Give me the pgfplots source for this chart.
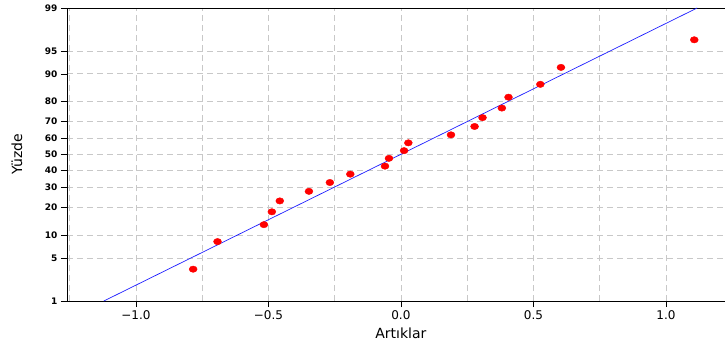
\documentclass[border=0pt]{standalone}
\usepackage{fontspec}
\setmainfont{DejaVu Sans}
\usepackage{pgfplots}
\pgfplotsset{compat=1.18}
\definecolor{gridgray}{RGB}{200,200,200}
\definecolor{fitblue}{RGB}{30,30,255}
\begin{document}
\begin{tikzpicture}
\begin{axis}[
  scale only axis, width=658pt, height=293pt,
  xmin=-1.26, xmax=1.223, ymin=-2.3263, ymax=2.3263,
  axis x line=box, axis y line=left, y axis line style={-},
  axis line style={black, line width=0.9pt},
  xtick={-1,-0.5,0,0.5,1},
  xticklabels={−1.0,−0.5,0.0,0.5,1.0},
  minor xtick={-1.25,-0.75,-0.25,0.25,0.75},
  ytick={-2.3263,-1.6449,-1.2816,-0.8416,-0.5244,-0.2533,0,0.2533,0.5244,0.8416,1.2816,1.6449,2.3263},
  yticklabels={1,5,10,20,30,40,50,60,70,80,90,95,99},
  xtick pos=bottom, ytick pos=left,
  tick align=outside,
  major tick length=6pt,
  tick style={black},
  minor tick length=0pt,
  xmajorgrids, xminorgrids, ymajorgrids,
  major grid style={gridgray, line width=0.8pt, dash pattern=on 6pt off 4pt},
  minor grid style={gridgray, line width=0.8pt, dash pattern=on 6pt off 4pt},
  xticklabel style={font=\fontsize{12}{14}\selectfont},
  yticklabel style={font=\fontsize{9}{10}\selectfont\bfseries},
  xlabel={Artıklar}, ylabel={Yüzde},
  every axis x label/.style={at={([yshift=-32pt]axis cs:0,-2.3263)}, anchor=center, font=\fontsize{14}{16}\selectfont},
  every axis y label/.style={at={([xshift=-50pt]rel axis cs:0,0.5)}, rotate=90, anchor=center, font=\fontsize{14}{16}\selectfont},
]
\addplot[fitblue, line width=0.7pt] coordinates {(-1.121,-2.3263) (1.118,2.3263)};
\addplot[only marks, mark=*, mark size=4pt, mark options={yscale=0.8, draw=red, fill=red}] table {
x z
-0.784 -1.821
-0.692 -1.383
-0.517 -1.114
-0.487 -0.910
-0.457 -0.737
-0.347 -0.585
-0.268 -0.445
-0.191 -0.312
-0.060 -0.185
-0.045 -0.061
0.012 0.061
0.028 0.185
0.189 0.312
0.278 0.445
0.308 0.585
0.381 0.737
0.406 0.910
0.526 1.114
0.604 1.383
1.107 1.821
};
\coordinate (sw) at (rel axis cs:0,0);
\coordinate (ne) at (rel axis cs:1,1);
\end{axis}
\pgfresetboundingbox
\path[use as bounding box] ([xshift=-67pt,yshift=-47pt]sw) rectangle ([yshift=8pt]ne);
\end{tikzpicture}
\end{document}
